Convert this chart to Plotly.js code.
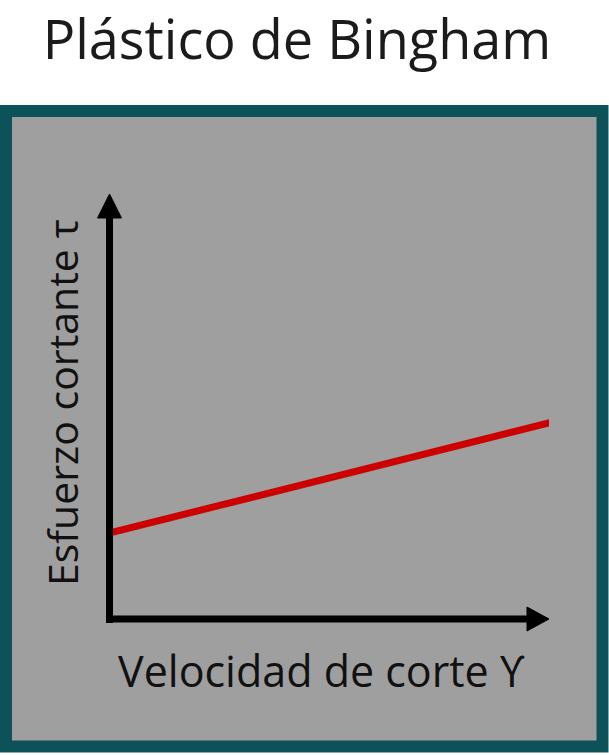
<!DOCTYPE html>
<html>
<head>
<meta charset="utf-8">
<script src="https://cdn.plot.ly/plotly-3.0.1.min.js"></script>
<style>html,body{margin:0;padding:0;background:#fff;}#chart{width:609px;height:755px;}</style>
</head>
<body>
<div id="chart"></div>
<script>
// Data (arbitrary units)
const shearRate = [0, 10.05];        // Velocidad de corte
const shearStress = [2.02, 4.63];    // Esfuerzo cortante
const titleText = "Plástico de Bingham";
const xLabel = "Velocidad de corte ϒ";
const yLabel = "Esfuerzo cortante τ";

const W = 609, H = 755;
const L = 109, R = 60, T = 194, B = 136;
const pw = W - L - R, ph = H - T - B;
const px = v => (v - L) / pw;            // pixel x -> paper x
const py = v => (H - B - v) / ph;        // pixel y -> paper y

const font = "'Open Sans', Lato, sans-serif";

const trace = {
  x: shearRate, y: shearStress, mode: "lines", type: "scatter",
  line: {color: "#cc0000", width: 7}, cliponaxis: false, hoverinfo: "skip"
};

const shapes = [
  // framed panel
  {type: "rect", xref: "paper", yref: "paper", layer: "below",
   x0: px(6), x1: px(602.5), y0: py(746.5), y1: py(111),
   fillcolor: "#9f9f9f", line: {color: "#0c5258", width: 12}},
  // y axis line
  {type: "line", xref: "paper", yref: "paper",
   x0: px(109.5), x1: px(109.5), y0: py(623), y1: py(214),
   line: {color: "#000", width: 7}},
  // x axis line
  {type: "line", xref: "paper", yref: "paper",
   x0: px(106), x1: px(531), y0: py(619), y1: py(619),
   line: {color: "#000", width: 7}},
  // y arrow head
  {type: "path", xref: "paper", yref: "paper",
   path: `M ${px(109.5)} ${py(194)} L ${px(97.5)} ${py(218)} L ${px(121.5)} ${py(218)} Z`,
   fillcolor: "#000", line: {color: "#000", width: 1}},
  // x arrow head
  {type: "path", xref: "paper", yref: "paper",
   path: `M ${px(549)} ${py(619)} L ${px(527)} ${py(607)} L ${px(527)} ${py(631)} Z`,
   fillcolor: "#000", line: {color: "#000", width: 1}}
];

const layout = {
  width: W, height: H,
  margin: {l: L, r: R, t: T, b: B, pad: 0},
  paper_bgcolor: "#ffffff", plot_bgcolor: "rgba(0,0,0,0)",
  showlegend: false,
  title: {text: titleText, font: {family: font, size: 54, color: "#1c1a1a"},
          xref: "paper", x: px(297), xanchor: "center",
          yref: "container", y: 1 - 40 / H, yanchor: "middle"},
  xaxis: {range: [0, 10], showgrid: false, zeroline: false, showline: false,
          showticklabels: false, ticks: "", fixedrange: true},
  yaxis: {range: [0, 10], showgrid: false, zeroline: false, showline: false,
          showticklabels: false, ticks: "", fixedrange: true},
  shapes: shapes,
  annotations: [
    {text: xLabel, xref: "paper", yref: "paper", x: px(321), y: py(670),
     xanchor: "center", yanchor: "middle", showarrow: false,
     font: {family: font, size: 43, color: "#111"}},
    {text: yLabel, xref: "paper", yref: "paper", x: px(62), y: py(403),
     xanchor: "center", yanchor: "middle", showarrow: false, textangle: -90,
     font: {family: font, size: 41, color: "#111"}}
  ]
};

Plotly.newPlot("chart", [trace], layout, {staticPlot: true, displayModeBar: false});
</script>
</body>
</html>
